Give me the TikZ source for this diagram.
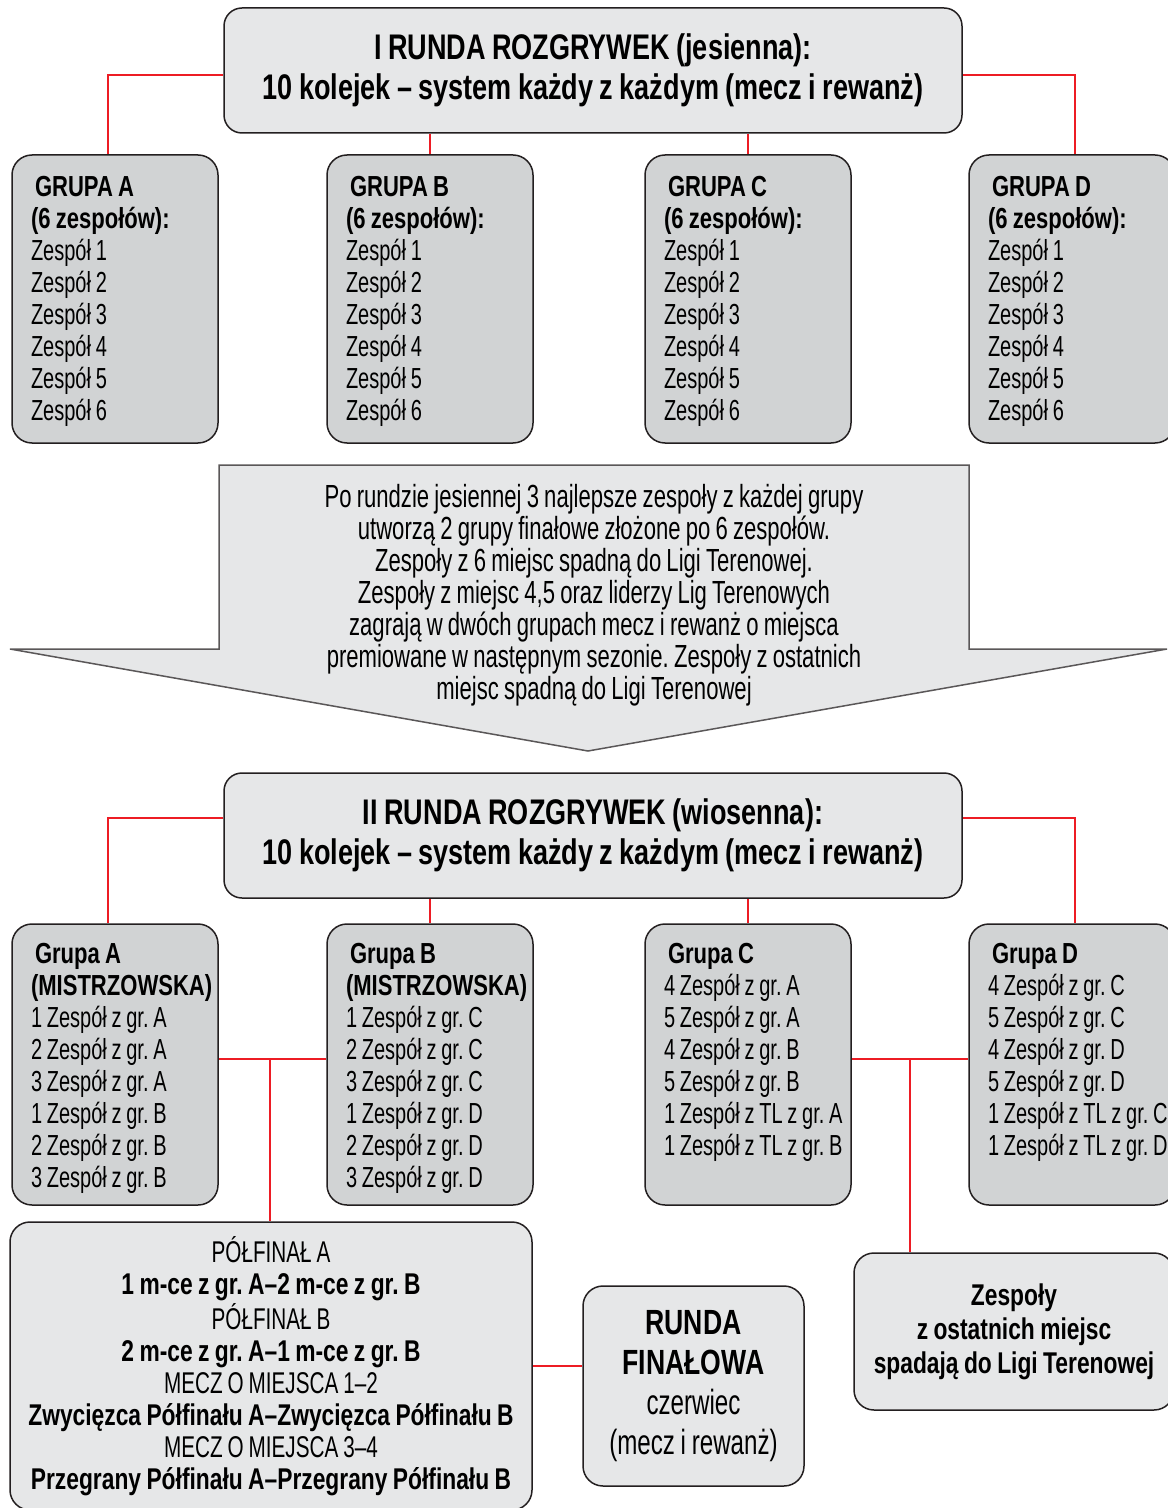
\documentclass[tikz,border=0pt]{standalone}
\usepackage{fontspec}
\setmainfont{Liberation Sans}[FakeStretch=0.69,WordSpace=0.85,BoldFeatures={FakeStretch=0.76}]
\definecolor{jasny}{HTML}{E6E7E8}
\definecolor{ciemny}{HTML}{D1D3D4}
\definecolor{ramka}{HTML}{231F20}
\definecolor{czerw}{HTML}{ED1C24}
\frenchspacing

\begin{document}
\begin{tikzpicture}[x=0.5pt,y=-0.5pt,
	runda/.style={draw=ramka,line width=0.75pt,fill=jasny,rounded corners=9pt,minimum width=369pt,minimum height=62.5pt,align=center,font=\bfseries\fontsize{17.8}{20}\selectfont},
	grupa/.style={draw=ramka,line width=0.75pt,fill=ciemny,rounded corners=10pt,text width=96pt,align=left,inner xsep=3.5pt,inner ysep=0pt,text height=21pt,text depth=123pt,font=\fontsize{14.5}{16}\selectfont,execute at begin node={\spaceskip=0pt\xspaceskip=0pt\leftskip=6pt}},
	grupa2/.style={grupa,text height=19.5pt,text depth=121pt},
	pole/.style={draw=ramka,line width=0.75pt,fill=jasny,rounded corners=10pt,align=center,inner sep=0pt},
	linia/.style={draw=czerw,line width=0.6pt}]
				\useasboundingbox (0,0) rectangle (1167,1508);
				\node[runda] (r1) at (593,70.5) {I RUNDA ROZGRYWEK (jesienna):\\10 kolejek – system każdy z każdym (mecz i rewanż)};
				\node[grupa] (ga) at (115,299) {\textbf{\hspace*{2pt}GRUPA A}\\\textbf{(6 zespołów):}\\Zespół 1\\Zespół 2\\Zespół 3\\Zespół 4\\Zespół 5\\Zespół 6};
				\node[grupa] (gb) at (430,299) {\textbf{\hspace*{2pt}GRUPA B}\\\textbf{(6 zespołów):}\\Zespół 1\\Zespół 2\\Zespół 3\\Zespół 4\\Zespół 5\\Zespół 6};
				\node[grupa] (gc) at (748,299) {\textbf{\hspace*{2pt}GRUPA C}\\\textbf{(6 zespołów):}\\Zespół 1\\Zespół 2\\Zespół 3\\Zespół 4\\Zespół 5\\Zespół 6};
				\node[grupa] (gd) at (1072,299) {\textbf{\hspace*{2pt}GRUPA D}\\\textbf{(6 zespołów):}\\Zespół 1\\Zespół 2\\Zespół 3\\Zespół 4\\Zespół 5\\Zespół 6};
				\draw[draw=ramka!75,line width=0.75pt,fill=jasny] (219,465) -- (969,465) -- (969,649) -- (1167,649) -- (588,751) -- (10,649) -- (219,649) -- cycle;
				\node[align=center,font=\fontsize{16}{16}\selectfont] (opis) at (594,595) {Po rundzie jesiennej 3 najlepsze zespoły z każdej grupy\\utworzą 2 grupy finałowe złożone po 6 zespołów.\\Zespoły z 6 miejsc spadną do Ligi Terenowej.\\Zespoły z miejsc 4,5 oraz liderzy Lig Terenowych\\zagrają w dwóch grupach mecz i rewanż o miejsca\\premiowane w następnym sezonie. Zespoły z ostatnich\\miejsc spadną do Ligi Terenowej};
				\node[runda] (r2) at (593,835.5) {II RUNDA ROZGRYWEK (wiosenna):\\10 kolejek – system każdy z każdym (mecz i rewanż)};
				\node[grupa2] (ga2) at (115,1064.5) {\textbf{\hspace*{2pt}Grupa A}\\\textbf{(MISTRZOWSKA)}\\1 Zespół z gr. A\\2 Zespół z gr. A\\3 Zespół z gr. A\\1 Zespół z gr. B\\2 Zespół z gr. B\\3 Zespół z gr. B};
				\node[grupa2] (gb2) at (430,1064.5) {\textbf{\hspace*{2pt}Grupa B}\\\textbf{(MISTRZOWSKA)}\\1 Zespół z gr. C\\2 Zespół z gr. C\\3 Zespół z gr. C\\1 Zespół z gr. D\\2 Zespół z gr. D\\3 Zespół z gr. D};
				\node[grupa2] (gc2) at (748,1064.5) {\textbf{\hspace*{2pt}Grupa C}\\4 Zespół z gr. A\\5 Zespół z gr. A\\4 Zespół z gr. B\\5 Zespół z gr. B\\1 Zespół z TL z gr. A\\1 Zespół z TL z gr. B};
				\node[grupa2] (gd2) at (1072,1064.5) {\textbf{\hspace*{2pt}Grupa D}\\4 Zespół z gr. C\\5 Zespół z gr. C\\4 Zespół z gr. D\\5 Zespół z gr. D\\1 Zespół z TL z gr. C\\1 Zespół z TL z gr. D};
				\node[pole,minimum width=261pt,minimum height=144pt,font=\fontsize{15}{16}\selectfont] (semi) at (271,1366) {PÓŁFINAŁ A\\\textbf{1 m-ce z gr. A–2 m-ce z gr. B}\\PÓŁFINAŁ B\\\textbf{2 m-ce z gr. A–1 m-ce z gr. B}\\MECZ O MIEJSCA 1–2\\\textbf{Zwycięzca Półfinału A–Zwycięzca Półfinału B}\\MECZ O MIEJSCA 3–4\\\textbf{Przegrany Półfinału A–Przegrany Półfinału B}};
				\node[pole,minimum width=110.5pt,minimum height=100pt,font=\fontsize{17.5}{20}\selectfont] (final) at (693.5,1386) {\textbf{RUNDA}\\\textbf{FINAŁOWA}\\czerwiec\\(mecz i rewanż)};
				\node[pole,minimum width=160pt,minimum height=78.5pt,font=\bfseries\fontsize{15}{17}\selectfont] (spadek) at (1014,1331.5) {Zespoły\\z ostatnich miejsc\\spadają do Ligi Terenowej};
				\coordinate (l1) at (108,75);
				\coordinate (p1) at (1075,75);
				\coordinate (l2) at (108,818);
				\coordinate (p2) at (1075,818);
				\coordinate (ab) at (270,1059);
				\coordinate (cd) at (910,1059);
				\draw[linia] (r1.west |- l1) -- (l1) -- (ga.north -| l1);
				\draw[linia] (r1.east |- p1) -- (p1) -- (gd.north -| p1);
				\draw[linia] (r1.south -| gb.north) -- (gb.north);
				\draw[linia] (r1.south -| gc.north) -- (gc.north);
				\draw[linia] (r2.west |- l2) -- (l2) -- (ga2.north -| l2);
				\draw[linia] (r2.east |- p2) -- (p2) -- (gd2.north -| p2);
				\draw[linia] (r2.south -| gb2.north) -- (gb2.north);
				\draw[linia] (r2.south -| gc2.north) -- (gc2.north);
				\draw[linia] (ga2.east |- ab) -- (gb2.west |- ab);
				\draw[linia] (ab) -- (semi.north -| ab);
				\draw[linia] (gc2.east |- cd) -- (gd2.west |- cd);
				\draw[linia] (cd) -- (spadek.north -| cd);
				\draw[linia] (semi.east) -- (semi.east -| final.west);
			\end{tikzpicture}
\end{document}
